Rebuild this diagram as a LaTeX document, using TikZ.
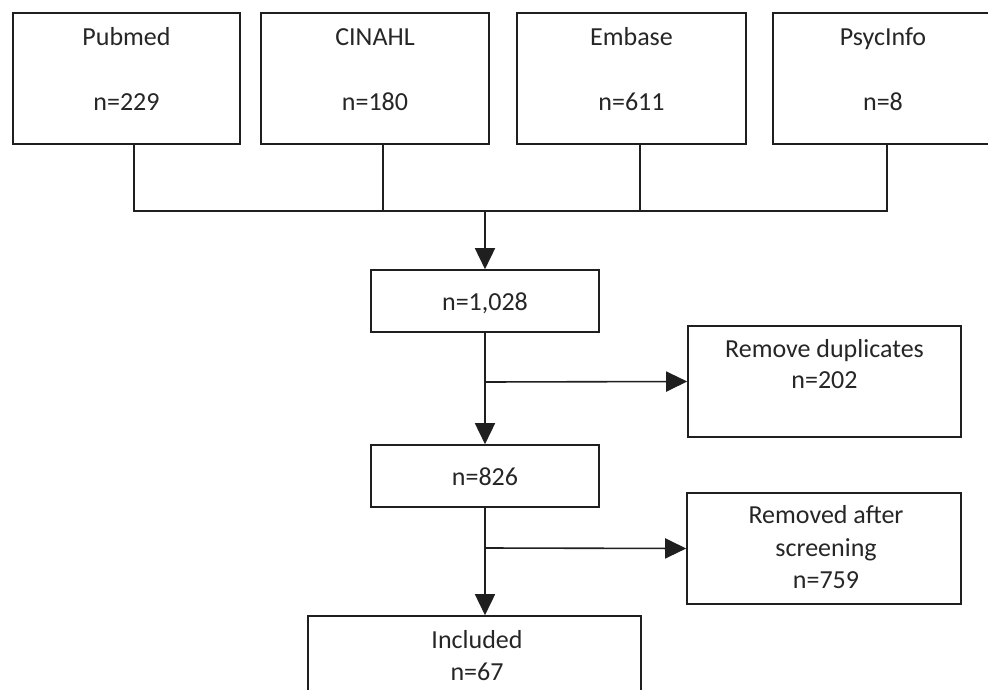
\documentclass[tikz,border=0pt]{standalone}
\usepackage{fontspec}
\setmainfont{Carlito}
\usetikzlibrary{arrows.meta,calc}
\begin{document}
\begin{tikzpicture}[x=1pt,y=-1pt,
  box/.style={draw=black!88,line width=1.6pt,rectangle,inner sep=0pt},
  txt/.style={anchor=base,inner sep=0pt,font=\fontsize{26}{32}\selectfont,text=black!85},
  conn/.style={draw=black!88,line width=1.6pt},
  arr/.style={conn,-{Triangle[length=21pt,width=20pt]}}]
\clip (0,0) rectangle (988,690);
\fill[white] (0,0) rectangle (988,690);
% top boxes
\node[box,minimum width=227pt,minimum height=131pt] (pub) at (126.5,78.5) {};
\node[box,minimum width=228pt,minimum height=131pt] (cin) at (375,78.5) {};
\node[box,minimum width=229pt,minimum height=131pt] (emb) at (631.5,78.5) {};
\node[box,minimum width=220pt,minimum height=131pt] (psy) at (883,78.5) {};
\node[txt] (pubt) at (126.5,46) {Pubmed};
\node[txt] (pubn) at (126.5,111) {n=229};
\node[txt] (cint) at (375,46) {CINAHL};
\node[txt] (cinn) at (375,111) {n=180};
\node[txt] (embt) at (631.5,46) {Embase};
\node[txt] (embn) at (631.5,111) {n=611};
\node[txt] (psyt) at (883,46) {PsycInfo};
\node[txt] (psyn) at (883,111) {n=8};
% middle column
\node[box,minimum width=228pt,minimum height=62pt] (all) at (485,301) {};
\node[txt] (allt) at (485,310) {n=1,028};
\node[box,minimum width=228pt,minimum height=62pt] (scr) at (485,476) {};
\node[txt] (scrt) at (485,485) {n=826};
\node[box,minimum width=333pt,minimum height=140pt] (inc) at (474.5,686) {};
\node[txt] (inct) at (477,648) {Included};
\node[txt] (incn) at (477,680) {n=67};
% side boxes
\node[box,minimum width=273pt,minimum height=111pt] (dup) at (824.5,381.5) {};
\node[txt] (dupt) at (824.5,357) {Remove duplicates};
\node[txt] (dupn) at (824.5,388) {n=202};
\node[box,minimum width=274pt,minimum height=111pt] (rem) at (824,548.5) {};
\node[txt] (remt) at (826,523) {Removed after};
\node[txt] (rems) at (826,556) {screening};
\node[txt] (remn) at (826,588) {n=759};
% junctions
\coordinate (j1) at (134,211);
\coordinate (j2) at (383,211);
\coordinate (j3) at (640,211);
\coordinate (j4) at (887,211);
\coordinate (jm) at (485,211);
\coordinate (b1) at (485,382);
\coordinate (b2) at (485,548);
% connectors
\draw[conn] (pub.south -| j1) -- (j1) -- (j4) -- (psy.south -| j4);
\draw[conn] (cin.south -| j2) -- (j2);
\draw[conn] (emb.south -| j3) -- (j3);
\draw[arr] (jm) -- (all.north);
\draw[arr] (all.south) -- (scr.north);
\draw[arr] (b1) -- (dup.west);
\draw[arr] (scr.south) -- (inc.north -| scr.south);
\draw[arr] (b2) -- (rem.west);
\end{tikzpicture}
\end{document}
